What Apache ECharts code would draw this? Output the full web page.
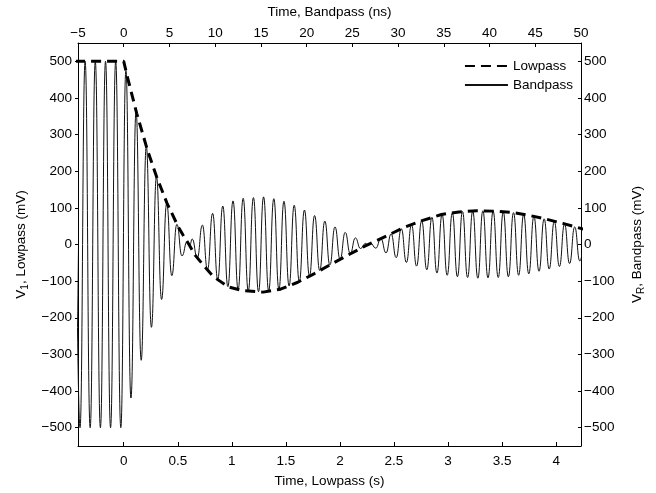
<!DOCTYPE html>
<html>
<head>
<meta charset="utf-8">
<script src="https://cdn.jsdelivr.net/npm/echarts@6/dist/echarts.min.js"></script>
<style>html,body{margin:0;padding:0;background:#fff}#c{width:656px;height:493px}</style>
</head>
<body>
<div id="c"></div>
<script>
// Lowpass envelope (time in s, value in mV)
var lowTimes = [-0.45, 0, 0.03, 0.12, 0.22, 0.305, 0.40, 0.505, 0.55, 0.604, 0.66, 0.736, 0.83, 0.97, 1.1, 1.29, 1.45, 1.61, 1.76, 1.93, 2.08, 2.24, 2.43, 2.58, 2.76, 2.94, 3.10, 3.27, 3.44, 3.60, 3.76, 3.91, 4.07, 4.19, 4.25];
var lowValues = [500, 500, 462, 358, 257, 184, 113, 48, 25, 0, -29, -56, -88, -116, -126, -130, -122, -103, -80, -52, -28, -3, 23, 45, 65, 82, 89, 92, 91, 87, 79, 69, 57, 47, 42];

// Bandpass signal extremes (time in ns, value in mV)
var bandTimes = [-5.34, -4.78, -4.22, -3.67, -3.11, -2.55, -1.99, -1.44, -0.88, -0.32,
  0.24, 0.79, 1.35, 1.91, 2.47, 3.03, 3.58, 4.14, 4.70, 5.26,
  5.81, 6.37, 6.93, 7.21, 7.49, 8.04, 8.60, 9.16, 9.72, 10.28, 10.83,
  11.39, 11.95, 12.51, 13.06, 13.62, 14.18, 14.74, 15.29, 15.85, 16.41,
  16.97, 17.52, 18.08, 18.64, 19.20, 19.76, 20.31, 20.87, 21.43, 21.99,
  22.54, 23.10, 23.66, 24.22, 24.77, 25.33, 25.89, 26.45, 26.73, 27.00, 27.56,
  28.12, 28.68, 29.24, 29.79, 30.35, 30.91, 31.47, 32.02, 32.58, 33.14,
  33.70, 34.25, 34.81, 35.37, 35.93, 36.49, 37.04, 37.60, 38.16, 38.72,
  39.27, 39.83, 40.39, 40.95, 41.50, 42.06, 42.62, 43.18, 43.73, 44.29,
  44.85, 45.41, 45.97, 46.52, 47.08, 47.64, 48.20, 48.75, 49.31, 49.87, 50.43];
var bandValues = [500, -500, 500, -500, 500, -500, 500, -500, 500, -500,
  475, -419, 364, -316, 268, -226, 185, -150, 112, -85,
  55, -31, 8, -3, 15, -37, 53, -69, 85, -96, 105,
  -115, 119, -123, 126, -127, 128, -129, 130, -127, 125,
  -123, 118, -113, 107, -101, 94, -86, 79, -71, 64,
  -56, 48, -40, 33, -25, 18, -11, 3, -2, 3, -10,
  16, -23, 29, -36, 43, -49, 54, -59, 65, -69,
  74, -78, 82, -84, 86, -88, 90, -90, 91, -92,
  92, -91, 91, -90, 89, -88, 87, -84, 82, -80,
  77, -73, 70, -67, 63, -60, 56, -52, 48, -45, 40];

// Tick labels
var lowTicks = [0, 0.5, 1, 1.5, 2, 2.5, 3, 3.5, 4];
var yTicks = [-500, -400, -300, -200, -100, 0, 100, 200, 300, 400, 500];

function zip(a, b) { var r = []; for (var i = 0; i < a.length; i++) r.push([a[i], b[i]]); return r; }
function fmt(v) { return String(v).replace('-', '\u2212'); }

var FONT = 'Liberation Sans, Arial, Helvetica, sans-serif';
var FS = 13.5;
var txt = { color: '#000', fontFamily: FONT, fontSize: FS };
var richName = {
  n: { color: '#000', fontFamily: FONT, fontSize: FS, lineHeight: 18 },
  s: { color: '#000', fontFamily: FONT, fontSize: 10, lineHeight: 10, verticalAlign: 'bottom' }
};
var axLine = { show: true, onZero: false, lineStyle: { color: '#000', width: 1 } };

var chart = echarts.init(document.getElementById('c'), null, { renderer: 'canvas' });
chart.setOption({
  animation: false,
  backgroundColor: '#fff',
  grid: { left: 78, right: 75, top: 43, bottom: 47, containLabel: false, outerBoundsMode: 'none' },
  legend: {
    orient: 'vertical', right: 78, top: 54, itemWidth: 43, itemHeight: 14, itemGap: 5,
    textStyle: txt, itemStyle: { opacity: 0 },
    data: ['Lowpass', 'Bandpass']
  },
  xAxis: [
    { type: 'value', position: 'bottom', min: -0.423, max: 4.23,
      name: 'Time, Lowpass (s)', nameLocation: 'middle', nameGap: 28, nameTextStyle: txt,
      axisLine: axLine, splitLine: { show: false },
      axisTick: { inside: true, length: 4, lineStyle: { color: '#000' }, customValues: lowTicks },
      axisLabel: Object.assign({ margin: 8, customValues: lowTicks, formatter: fmt }, txt) },
    { type: 'value', position: 'top', min: -5, max: 50, interval: 5,
      name: 'Time, Bandpass (ns)', nameLocation: 'middle', nameGap: 24, nameTextStyle: txt,
      axisLine: axLine, splitLine: { show: false },
      axisTick: { inside: true, length: 4, lineStyle: { color: '#000' } },
      axisLabel: Object.assign({ margin: 3, formatter: fmt, showMinLabel: true, showMaxLabel: true }, txt) }
  ],
  yAxis: [
    { type: 'value', position: 'left', min: -550, max: 550,
      name: '{n|V}{s|1}{n|, Lowpass (mV)}', nameLocation: 'middle', nameRotate: 90, nameGap: 46,
      nameTextStyle: { rich: richName },
      axisLine: axLine, splitLine: { show: false },
      axisTick: { inside: false, length: 3, lineStyle: { color: '#000' }, customValues: yTicks },
      axisLabel: Object.assign({ margin: 6, customValues: yTicks, formatter: fmt }, txt) },
    { type: 'value', position: 'right', min: -550, max: 550,
      name: '{n|V}{s|R}{n|, Bandpass (mV)}', nameLocation: 'middle', nameRotate: 90, nameGap: 47,
      nameTextStyle: { rich: richName },
      axisLine: axLine, splitLine: { show: false },
      axisTick: { inside: true, length: 3, lineStyle: { color: '#000' }, customValues: yTicks },
      axisLabel: Object.assign({ margin: 3, customValues: yTicks, formatter: fmt }, txt) }
  ],
  series: [
    { name: 'Bandpass', type: 'line', xAxisIndex: 1, yAxisIndex: 1,
      data: zip(bandTimes, bandValues), symbol: 'none', showSymbol: false,
      smooth: 0.5, smoothMonotone: 'x', clip: true, z: 2,
      lineStyle: { color: '#111', width: 1 }, itemStyle: { color: '#111' } },
    { name: 'Lowpass', type: 'line', xAxisIndex: 0, yAxisIndex: 0,
      data: zip(lowTimes, lowValues), symbol: 'none', showSymbol: false,
      smooth: false, clip: true, z: 3,
      lineStyle: { color: '#000', width: 3, type: [10, 6] }, itemStyle: { color: '#000' } }
  ]
});
</script>
</body>
</html>
